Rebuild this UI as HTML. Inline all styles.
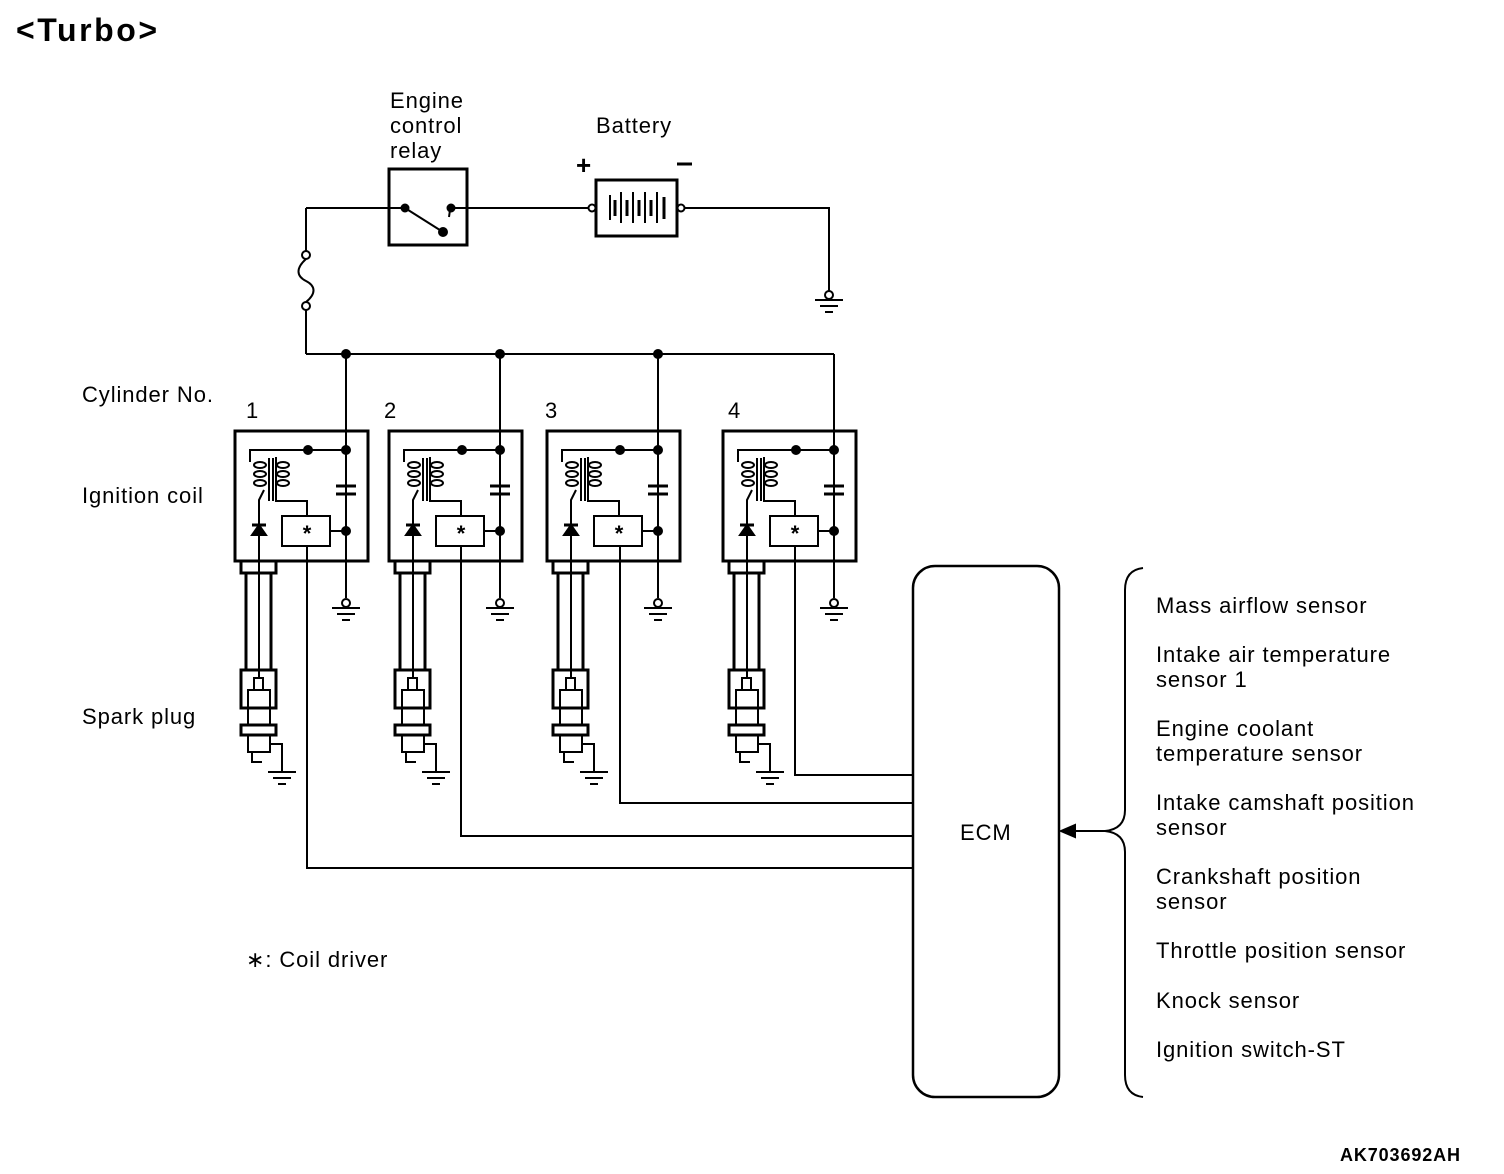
<!DOCTYPE html>
<html><head><style>body{margin:0;background:#fff}svg{display:block}text{font-family:"Liberation Sans",sans-serif;fill:#000}</style></head><body>
<svg width="1504" height="1174" viewBox="0 0 1504 1174" xmlns="http://www.w3.org/2000/svg">
<defs>
<g id="gnd" stroke="#000" stroke-width="2" fill="none"><line x1="-14" y1="0" x2="14" y2="0"/><line x1="-9" y1="6" x2="9" y2="6"/><line x1="-4" y1="12" x2="4" y2="12"/></g>
<g id="unit" stroke="#000" fill="none" stroke-width="2">
<rect x="235" y="431" width="133" height="130" stroke-width="3"/>
<line x1="346" y1="354" x2="346" y2="598"/>
<circle cx="346" cy="603" r="4" fill="#fff"/>
<use href="#gnd" x="346" y="608"/>
<line x1="336" y1="486" x2="356" y2="486" stroke-width="3"/><line x1="336" y1="494" x2="356" y2="494" stroke-width="3"/>
<polyline points="250,462 250,450 346,450"/>
<circle cx="308" cy="450" r="4" fill="#000"/><circle cx="346" cy="450" r="4" fill="#000"/><circle cx="346" cy="531" r="4" fill="#000"/>
<rect x="282" y="516" width="48" height="30"/>
<line x1="330" y1="531" x2="346" y2="531"/>
<text x="307" y="541" font-size="22" font-weight="bold" text-anchor="middle" stroke="none" fill="#000">*</text>
<line x1="269" y1="458" x2="269" y2="501"/><line x1="273" y1="458" x2="273" y2="501"/>
<ellipse cx="260" cy="465" rx="6" ry="3"/><ellipse cx="260" cy="474" rx="6" ry="3"/><ellipse cx="260" cy="483" rx="6" ry="3"/>
<ellipse cx="283" cy="465" rx="6" ry="3"/><ellipse cx="283" cy="474" rx="6" ry="3"/><ellipse cx="283" cy="483" rx="6" ry="3"/>
<polyline points="276,457 276,501 307,501 307,516"/>
<polyline points="264,490 259,500 259,678"/>
<polygon points="252,535 266,535 259,525" fill="#000"/><line x1="252" y1="525" x2="266" y2="525" stroke-width="3"/>
<rect x="241" y="561" width="35" height="12" stroke-width="3"/>
<line x1="246" y1="573" x2="246" y2="670" stroke-width="3"/><line x1="271" y1="573" x2="271" y2="670" stroke-width="3"/>
<rect x="241" y="670" width="35" height="38" stroke-width="3"/>
<rect x="254" y="678" width="9" height="12"/>
<rect x="248" y="690" width="22" height="35"/>
<rect x="241" y="725" width="35" height="10" stroke-width="3"/>
<rect x="248" y="735" width="22" height="17"/>
<polyline points="252,752 252,762 262,762"/>
<polyline points="270,744 282,744 282,772"/>
<use href="#gnd" x="282" y="772"/>
</g>
</defs>
<text x="16" y="41" font-size="32" font-weight="bold" textLength="141">&lt;Turbo&gt;</text>
<g font-size="22" letter-spacing="0.9">
<text x="390" y="108">Engine</text><text x="390" y="133">control</text><text x="390" y="158">relay</text>
<text x="596" y="133">Battery</text>
<text x="82" y="402">Cylinder No.</text><text x="82" y="503">Ignition coil</text><text x="82" y="724">Spark plug</text>
<text x="246" y="418">1</text><text x="384" y="418">2</text><text x="545" y="418">3</text><text x="728" y="418">4</text>
<text x="246" y="967">∗: Coil driver</text>
<text x="960" y="840">ECM</text>
<text x="1156" y="613">Mass airflow sensor</text>
<text x="1156" y="662">Intake air temperature</text><text x="1156" y="687">sensor 1</text>
<text x="1156" y="736">Engine coolant</text><text x="1156" y="761">temperature sensor</text>
<text x="1156" y="810">Intake camshaft position</text><text x="1156" y="835">sensor</text>
<text x="1156" y="884">Crankshaft position</text><text x="1156" y="909">sensor</text>
<text x="1156" y="958">Throttle position sensor</text>
<text x="1156" y="1008">Knock sensor</text>
<text x="1156" y="1057">Ignition switch-ST</text>
</g>
<text x="1340" y="1161" font-size="18" font-weight="bold" textLength="120">AK703692AH</text>
<text x="576" y="174" font-size="26" font-weight="bold">+</text>
<line x1="677" y1="164" x2="692" y2="164" stroke="#000" stroke-width="3"/>
<g stroke="#000" stroke-width="2" fill="none">
<rect x="389" y="169" width="78" height="76" stroke-width="3"/>
<line x1="306" y1="208" x2="405" y2="208"/><line x1="451" y1="208" x2="592" y2="208"/>
<line x1="405" y1="208" x2="443" y2="232"/>
<circle cx="405" cy="208" r="3.5" fill="#000"/><circle cx="451" cy="208" r="3.5" fill="#000"/><circle cx="443" cy="232" r="4" fill="#000"/>
<line x1="450" y1="210" x2="449" y2="217"/>
<rect x="596" y="180" width="81" height="56" stroke-width="3"/>
<circle cx="592" cy="208" r="3.5" fill="#fff"/><circle cx="681" cy="208" r="3.5" fill="#fff"/>
<g stroke-width="2"><line x1="610" y1="195" x2="610" y2="220"/><line x1="615" y1="200" x2="615" y2="216" stroke-width="3"/><line x1="621" y1="192" x2="621" y2="223"/><line x1="627" y1="200" x2="627" y2="216" stroke-width="3"/><line x1="633" y1="192" x2="633" y2="223"/><line x1="639" y1="200" x2="639" y2="216" stroke-width="3"/><line x1="645" y1="192" x2="645" y2="223"/><line x1="651" y1="200" x2="651" y2="216" stroke-width="3"/><line x1="657" y1="192" x2="657" y2="223"/><line x1="664" y1="197" x2="664" y2="219" stroke-width="3"/></g>
<polyline points="685,208 829,208 829,291"/>
<circle cx="829" cy="295" r="4" fill="#fff"/><use href="#gnd" x="829" y="300"/>
<line x1="306" y1="208" x2="306" y2="251"/>
<circle cx="306" cy="255" r="4" fill="#fff"/><circle cx="306" cy="306" r="4" fill="#fff"/>
<path d="M306,259 C296,268 296,276 306,281 C316,286 316,294 306,302"/>
<line x1="306" y1="310" x2="306" y2="354"/>
<line x1="306" y1="354" x2="834" y2="354"/>
<circle cx="346" cy="354" r="4" fill="#000"/><circle cx="500" cy="354" r="4" fill="#000"/><circle cx="658" cy="354" r="4" fill="#000"/>
<polyline points="307,546 307,868 913,868"/>
<polyline points="461,546 461,836 913,836"/>
<polyline points="620,546 620,803 913,803"/>
<polyline points="795,546 795,775 913,775"/>
<rect x="913" y="566" width="146" height="531" rx="22" stroke-width="2.5"/>
<path d="M1143,568 Q1125,570 1125,590 L1125,810 Q1125,829 1105,831 Q1125,833 1125,852 L1125,1075 Q1125,1095 1143,1097"/>
<line x1="1075" y1="831" x2="1105" y2="831"/>
<polygon points="1061,831 1075,825 1075,837" fill="#000"/>
</g>
<use href="#unit"/>
<use href="#unit" x="154"/>
<use href="#unit" x="312"/>
<use href="#unit" x="488"/>
</svg>
</body></html>
